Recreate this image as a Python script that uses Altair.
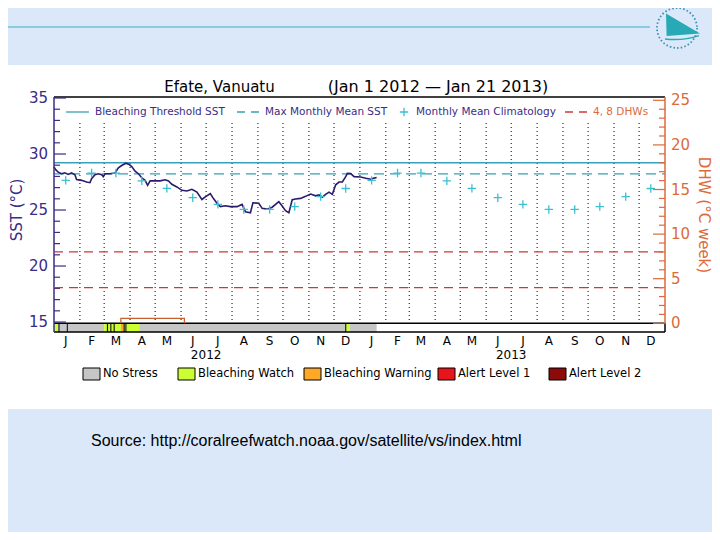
import altair as alt
import pandas as pd

# ---------------- data ----------------
sst_dates = [
    "2012-01-01", "2012-01-03", "2012-01-06", "2012-01-10", "2012-01-14", "2012-01-18", "2012-01-22", "2012-01-26", "2012-01-28", "2012-02-03",
    "2012-02-09", "2012-02-13", "2012-02-15", "2012-02-19", "2012-02-23", "2012-02-27", "2012-02-29", "2012-03-02", "2012-03-08", "2012-03-14",
    "2012-03-18", "2012-03-22", "2012-03-27", "2012-03-31", "2012-04-03", "2012-04-07", "2012-04-11", "2012-04-15", "2012-04-19", "2012-04-22",
    "2012-04-25", "2012-05-01", "2012-05-07", "2012-05-13", "2012-05-17", "2012-05-21", "2012-05-27", "2012-06-02", "2012-06-08", "2012-06-14",
    "2012-06-20", "2012-06-26", "2012-06-30", "2012-07-06", "2012-07-10", "2012-07-14", "2012-07-18", "2012-07-24", "2012-07-30", "2012-08-07",
    "2012-08-13", "2012-08-17", "2012-08-23", "2012-08-26", "2012-09-02", "2012-09-06", "2012-09-12", "2012-09-18", "2012-09-26", "2012-09-30",
    "2012-10-04", "2012-10-08", "2012-10-12", "2012-10-16", "2012-10-22", "2012-10-28", "2012-11-03", "2012-11-09", "2012-11-13", "2012-11-17",
    "2012-11-21", "2012-11-25", "2012-11-29", "2012-12-03", "2012-12-07", "2012-12-11", "2012-12-15", "2012-12-17", "2012-12-21", "2012-12-25",
    "2013-01-02", "2013-01-08", "2013-01-14", "2013-01-18", "2013-01-21",
]
sst_values = [
    28.85, 28.6, 28.38, 28.24, 28.32, 28.18, 28.32, 28.15, 27.72, 27.65,
    27.5, 27.44, 27.8, 28.15, 28.24, 28.15, 27.98, 28.24, 28.24, 28.3,
    28.76, 28.97, 29.18, 29.06, 28.88, 28.47, 28.24, 27.88, 27.65, 27.2,
    27.6, 27.6, 27.6, 27.7, 27.6, 27.3, 27.06, 26.76, 26.7, 26.85,
    26.6, 25.94, 26.18, 26.47, 26.0, 25.6, 25.3, 25.38, 25.3, 25.3,
    25.5, 24.85, 24.76, 25.65, 25.6, 25.15, 25.08, 25.25, 25.74, 25.36,
    24.94, 24.76, 25.92, 25.98, 26.04, 26.22, 26.43, 26.27, 26.36, 26.15,
    26.4, 26.6, 26.4, 27.25, 27.5, 27.5, 27.98, 28.27, 28.25, 27.98,
    27.95, 27.83, 27.75, 27.85, 27.9,
]

clim_dates = [
    "2012-01-15", "2012-02-15", "2012-03-15", "2012-04-15", "2012-05-15", "2012-06-15",
    "2012-07-15", "2012-08-15", "2012-09-15", "2012-10-15", "2012-11-15", "2012-12-15",
    "2013-01-15", "2013-02-15", "2013-03-15", "2013-04-15", "2013-05-15", "2013-06-15",
    "2013-07-15", "2013-08-15", "2013-09-15", "2013-10-15", "2013-11-15", "2013-12-15",
]
clim_values = [
    27.65, 28.3, 28.3, 27.6, 26.93, 26.1, 25.5, 25.05, 25.05, 25.3, 26.19, 26.92,
    27.65, 28.3, 28.3, 27.6, 26.93, 26.1, 25.5, 25.05, 25.05, 25.3, 26.19, 26.92,
]

threshold_sst = [29.22]
mmm_sst = [28.22]
dhw_levels = [4, 8]

dhw_dates = ["2012-03-21", "2012-03-21", "2012-06-05", "2012-06-05"]
dhw_values = [0.0, 0.55, 0.55, 0.0]

stress_start = ["2012-01-01", "2012-01-06", "2012-03-01", "2012-03-21", "2012-03-25", "2012-04-12", "2012-12-15", "2012-12-20"]
stress_end = ["2012-01-06", "2012-03-01", "2012-03-21", "2012-03-25", "2012-04-12", "2012-12-15", "2012-12-20", "2013-01-21"]
stress_level = ["Bleaching Watch", "No Stress", "Bleaching Watch", "Bleaching Warning", "Bleaching Watch",
                "No Stress", "Bleaching Watch", "No Stress"]
divider_dates = ["2012-01-07", "2012-01-17", "2012-03-05", "2012-03-09", "2012-03-13", "2012-03-25", "2012-03-27", "2012-12-15"]

stress_names = ["No Stress", "Bleaching Watch", "Bleaching Warning", "Alert Level 1", "Alert Level 2"]
stress_colors = ["#c6c6c6", "#ccff33", "#ffa726", "#e8141c", "#8c0a0a"]

month_letters = ["J", "F", "M", "A", "M", "J", "J", "A", "S", "O", "N", "D"] * 2
month_mid = [d.strftime("%Y-%m-15") for d in pd.date_range("2012-01-01", periods=24, freq="MS")]
month_starts = [d.strftime("%Y-%m-%d") for d in pd.date_range("2012-02-01", periods=23, freq="MS")]
year_mid = ["2012-07-01", "2013-07-01"]
year_labels = ["2012", "2013"]

sst_major = [15, 20, 25, 30, 35]
sst_minor = [v for v in range(15, 36) if v not in sst_major]
dhw_major = [0, 5, 10, 15, 20, 25]
dhw_minor = [v for v in range(0, 26) if v not in dhw_major]

# ---------------- styling ----------------
W, H = 611, 235
BAR_TOP = 226.3
PURPLE = "#3a2c86"
ORANGE = "#dd6a3a"
TEAL = "#3a9fb8"
CYAN = "#3cbfd2"
DRED = "#c83a36"
LINE = "#2a1b6e"
FONT = "DejaVu Sans"

one = pd.DataFrame({"k": [0]})


def utc(y, m, d):
    return alt.DateTime(year=y, month=m, date=d, utc=True)


xs = alt.Scale(type="utc", domain=[utc(2012, 1, 1), utc(2014, 1, 1)])
sst_scale = alt.Scale(domain=[14.11, 35.09], nice=False, zero=False)
dhw_scale = alt.Scale(domain=[-0.975, 25.37], nice=False, zero=False)


def X(f):
    return alt.X(f"{f}:T", scale=xs, axis=None)


def txt(s, x, y, size=11, color="black", align="left", font=FONT, angle=0):
    kw = dict(text=s, align=align, baseline="middle", fontSize=size, color=color, font=font)
    if angle:
        kw["angle"] = angle
    return alt.Chart(one).mark_text(**kw).encode(x=alt.value(x), y=alt.value(y))


def hrule(x0, x1, y, color, width=1.0, dash=None):
    kw = dict(color=color, strokeWidth=width)
    if dash:
        kw["strokeDash"] = dash
    return alt.Chart(one).mark_rule(**kw).encode(x=alt.value(x0), x2=alt.value(x1), y=alt.value(y))


def vrule(x, y0, y1, color, width=1.0):
    return alt.Chart(one).mark_rule(color=color, strokeWidth=width).encode(
        x=alt.value(x), y=alt.value(y0), y2=alt.value(y1))


sst_df = pd.DataFrame({"date": sst_dates, "sst": sst_values})
clim_df = pd.DataFrame({"date": clim_dates, "sst": clim_values})
stress_df = pd.DataFrame({"start": stress_start, "end": stress_end, "level": stress_level})
div_df = pd.DataFrame({"date": divider_dates})
grid_df = pd.DataFrame({"date": month_starts})
mon_df = pd.DataFrame({"date": month_mid, "lab": month_letters})
yr_df = pd.DataFrame({"date": year_mid, "lab": year_labels})

# ---------------- slide decorations ----------------
layers = []
layers.append(alt.Chart(one).mark_rect(color="white").encode(
    x=alt.value(-46), x2=alt.value(658), y=alt.value(-32), y2=alt.value(312)))
layers.append(hrule(-46, 596, -70, "#6cc4d6", 1.5))
layers.append(alt.Chart(one).mark_point(shape="circle", filled=False, size=1600, color="#3a8fb0",
                                        strokeDash=[1.5, 2.2], strokeWidth=1.8, opacity=1).encode(
    x=alt.value(623), y=alt.value(-69)))
layers.append(alt.Chart(one).mark_point(shape="M-0.55,-0.73L1.15,0.27L-0.52,0.4Z", filled=True, size=1600,
                                        color="#27aab5", opacity=1).encode(x=alt.value(623), y=alt.value(-69)))
layers.append(alt.Chart(one).mark_point(shape="M-0.6,0.55Q0.3,0.65 1.1,0.38", filled=False, size=1600,
                                        color="#27aab5", strokeWidth=1.5, opacity=1).encode(
    x=alt.value(623), y=alt.value(-69)))
layers.append(txt("Source:  http://coralreefwatch.noaa.gov/satellite/vs/index.html", 37, 344, 16,
                  font="Liberation Sans"))

# ---------------- plot content (SST scale) ----------------
layers.append(alt.Chart(grid_df).mark_rule(color="black", strokeDash=[1, 3], strokeWidth=1).encode(
    x=X("date"), y=alt.value(26), y2=alt.value(BAR_TOP)))
layers.append(alt.Chart(pd.DataFrame({"v": threshold_sst})).mark_rule(color=TEAL, strokeWidth=1.3).encode(
    y=alt.Y("v:Q", scale=sst_scale, axis=None), x=alt.value(0), x2=alt.value(W)))
layers.append(alt.Chart(pd.DataFrame({"v": mmm_sst})).mark_rule(color=TEAL, strokeWidth=1.3, strokeDash=[10, 6]).encode(
    y=alt.Y("v:Q", scale=sst_scale, axis=None), x=alt.value(0), x2=alt.value(W)))
layers.append(alt.Chart(sst_df).mark_line(color=LINE, strokeWidth=1.6).encode(
    x=X("date"), y=alt.Y("sst:Q", scale=sst_scale, axis=None)))
layers.append(alt.Chart(clim_df).mark_point(shape="M-1,0L1,0M0,-1L0,1", filled=False, size=70, color=CYAN,
                                            strokeWidth=1.3, opacity=1).encode(
    x=X("date"), y=alt.Y("sst:Q", scale=sst_scale, axis=None)))
layers.append(alt.Chart(stress_df).mark_rect().encode(
    x=X("start"), x2=alt.X2("end:T"), y=alt.value(BAR_TOP), y2=alt.value(H),
    color=alt.Color("level:N", scale=alt.Scale(domain=stress_names, range=stress_colors), legend=None)))
layers.append(alt.Chart(div_df).mark_rule(color="#222222", strokeWidth=1.2).encode(
    x=X("date"), y=alt.value(BAR_TOP), y2=alt.value(H)))
layers.append(hrule(0, W, 0, "black", 1.5))
layers.append(hrule(0, W, BAR_TOP, "black", 1.5))
layers.append(hrule(0, W, H, "black", 1.5))
layers.append(vrule(0, 0, H, PURPLE, 1.5))
layers.append(vrule(W, 0, BAR_TOP, ORANGE, 1.5))
layers.append(vrule(W, BAR_TOP, H, "black", 1.5))
# left axis ticks and labels (drawn through the SST scale)
layers.append(alt.Chart(pd.DataFrame({"v": sst_major})).mark_rule(color=PURPLE, strokeWidth=1.2).encode(
    y=alt.Y("v:Q", scale=sst_scale, axis=None), x=alt.value(0), x2=alt.value(12)))
layers.append(alt.Chart(pd.DataFrame({"v": sst_minor})).mark_rule(color=PURPLE, strokeWidth=1.2).encode(
    y=alt.Y("v:Q", scale=sst_scale, axis=None), x=alt.value(0), x2=alt.value(6)))
layers.append(alt.Chart(pd.DataFrame({"v": sst_major})).mark_text(
    align="right", baseline="middle", fontSize=15, font=FONT, color=PURPLE).encode(
    y=alt.Y("v:Q", scale=sst_scale, axis=None), x=alt.value(-6), text="v:Q"))
layers.append(alt.Chart(mon_df).mark_text(fontSize=12, font=FONT, color="black", baseline="middle").encode(
    x=X("date"), y=alt.value(244), text="lab:N"))
layers.append(alt.Chart(yr_df).mark_text(fontSize=12, font=FONT, color="black", baseline="middle").encode(
    x=X("date"), y=alt.value(258), text="lab:N"))

# titles
layers.append(txt("Efate, Vanuatu", 165.5, -10, 15, align="center"))
layers.append(txt("(Jan 1 2012 \u2014 Jan 21 2013)", 384, -10, 16, align="center"))
layers.append(txt("SST (\u00b0C)", -37, 113, 15, color=PURPLE, align="center", angle=270))
layers.append(txt("DHW (\u00b0C week)", 650, 118, 15, color=ORANGE, align="center", angle=90))

# legend inside the plot
LEG_Y = 15
layers.append(hrule(12, 35, LEG_Y, TEAL, 1.3))
layers.append(txt("Bleaching Threshold SST", 41, LEG_Y, 10.5, color=PURPLE))
layers.append(hrule(183, 205, LEG_Y, TEAL, 1.3, [8, 6]))
layers.append(txt("Max Monthly Mean SST", 211, LEG_Y, 10.5, color=PURPLE))
layers.append(alt.Chart(one).mark_point(shape="M-1,0L1,0M0,-1L0,1", filled=False, size=70, color=CYAN,
                                        strokeWidth=1.3, opacity=1).encode(x=alt.value(350), y=alt.value(LEG_Y)))
layers.append(txt("Monthly Mean Climatology", 362, LEG_Y, 10.5, color=PURPLE))
layers.append(hrule(511, 534, LEG_Y, DRED, 1.3, [8, 6]))
layers.append(txt("4, 8 DHWs", 539, LEG_Y, 10.5, color=ORANGE))

# legend below the plot
leg_x = [29, 124, 250, 384, 495]
for name, col, x0 in zip(stress_names, stress_colors, leg_x):
    layers.append(alt.Chart(one).mark_rect(color=col, stroke="black", strokeWidth=1).encode(
        x=alt.value(x0), x2=alt.value(x0 + 17), y=alt.value(271), y2=alt.value(283)))
    layers.append(txt(name, x0 + 20, 277, 11.5))

sst_group = alt.layer(*layers)

# ---------------- DHW scale content ----------------
dhw_layers = [
    alt.Chart(pd.DataFrame({"v": dhw_levels})).mark_rule(color=DRED, strokeWidth=1.3, strokeDash=[9, 6]).encode(
        y=alt.Y("v:Q", scale=dhw_scale, axis=None), x=alt.value(0), x2=alt.value(W)),
    alt.Chart(pd.DataFrame({"date": dhw_dates, "dhw": dhw_values, "i": list(range(len(dhw_dates)))})).mark_line(
        color="#c8602e", strokeWidth=1.3).encode(
        x=X("date"), y=alt.Y("dhw:Q", scale=dhw_scale, axis=None), order="i:Q"),
    alt.Chart(pd.DataFrame({"v": dhw_major})).mark_rule(color=ORANGE, strokeWidth=1.2).encode(
        y=alt.Y("v:Q", scale=dhw_scale, axis=None), x=alt.value(W - 12), x2=alt.value(W)),
    alt.Chart(pd.DataFrame({"v": dhw_minor})).mark_rule(color=ORANGE, strokeWidth=1.2).encode(
        y=alt.Y("v:Q", scale=dhw_scale, axis=None), x=alt.value(W - 6), x2=alt.value(W)),
    alt.Chart(pd.DataFrame({"v": dhw_major})).mark_text(
        align="left", baseline="middle", fontSize=15, font=FONT, color=ORANGE).encode(
        y=alt.Y("v:Q", scale=dhw_scale, axis=None), x=alt.value(W + 6), text="v:Q"),
]
dhw_group = alt.layer(*dhw_layers)

chart = alt.layer(sst_group, dhw_group).resolve_scale(y="independent").properties(
    width=W, height=H,
    autosize=alt.AutoSizeParams(type="none"),
    padding={"left": 46, "top": 89, "right": 47, "bottom": 200},
    background="#dae8fa",
).configure_view(strokeWidth=0)

chart.save("out.html", embed_options={"renderer": "svg", "actions": False})
